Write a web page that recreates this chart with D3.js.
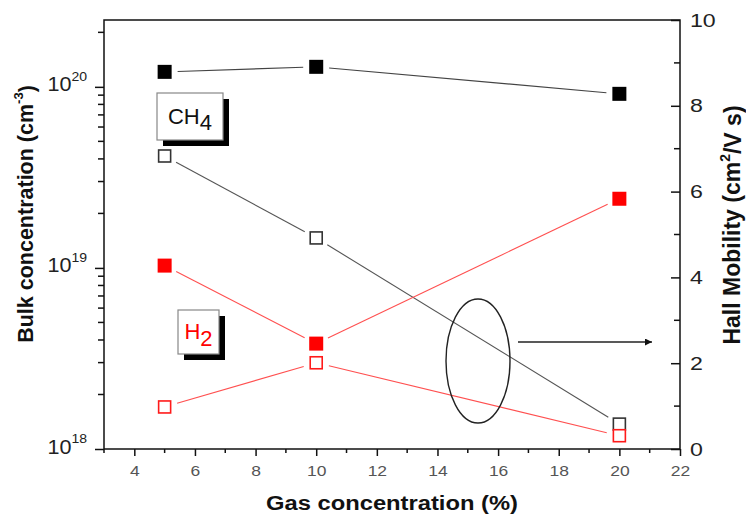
<!DOCTYPE html>
<html>
<head>
<meta charset="utf-8">
<script src="https://cdn.jsdelivr.net/npm/d3@7"></script>
<style>
  html, body { margin: 0; padding: 0; background: #fff; }
  svg { display: block; font-family: Arial, "Liberation Sans", sans-serif; }
</style>
</head>
<body>
<svg id="chart" width="746" height="515"></svg>
<script>
// Gas concentration (%) at which the films were grown
const gasConc = [5, 10, 20];
// Bulk carrier concentration (cm^-3), left log axis
const ch4Bulk = [1.21e20, 1.29e20, 9.15e19];
const h2Bulk = [1.03e19, 3.82e18, 2.41e19];
// Hall mobility (cm^2/V s), right linear axis
const ch4Mobility = [6.83, 4.92, 0.58];
const h2Mobility = [0.98, 2.01, 0.31];
// Axis ticks
const xTicks = [4, 6, 8, 10, 12, 14, 16, 18, 20, 22];
const xMinorTicks = [3, 5, 7, 9, 11, 13, 15, 17, 19, 21];
const leftExponents = [18, 19, 20];
const rightTicks = [0, 2, 4, 6, 8, 10];
const rightMinorTicks = [1, 3, 5, 7, 9];

const svg = d3.select("#chart");
const plot = { left: 104, right: 680, top: 20, bottom: 449 };

const x = d3.scaleLinear().domain([3, 22]).range([plot.left, plot.right]);
const yL = d3.scaleLog().domain([1e18, 2.34e20]).range([plot.bottom, plot.top]);
const yR = d3.scaleLinear().domain([0, 10]).range([plot.bottom, plot.top]);

// Widen glyphs horizontally while keeping each label's anchor point fixed
function widen(sel, k) {
  sel.each(function() {
    const t = d3.select(this);
    const ax = +t.attr("x") || 0;
    t.attr("transform", `translate(${ax * (1 - k)},0) scale(${k},1)`);
  });
}

// Frame
svg.append("rect")
  .attr("x", plot.left).attr("y", plot.top)
  .attr("width", plot.right - plot.left).attr("height", plot.bottom - plot.top)
  .attr("fill", "none").attr("stroke", "#111").attr("stroke-width", 1.5);

// Bottom axis
const xAxis = svg.append("g").attr("transform", `translate(0,${plot.bottom})`)
  .call(d3.axisBottom(x).tickValues(xTicks).tickSize(7).tickPadding(10).tickFormat(d3.format("d")));
xAxis.append("g").selectAll("line").data(xMinorTicks).join("line")
  .attr("x1", d => x(d)).attr("x2", d => x(d)).attr("y1", 0).attr("y2", 4)
  .attr("stroke", "#111").attr("stroke-width", 1.5);
xAxis.select(".domain").remove();
xAxis.selectAll(".tick line").attr("stroke", "#111").attr("stroke-width", 1.5);
const xLabels = xAxis.selectAll(".tick text").attr("font-size", 14).attr("fill", "#555")
  .attr("font-family", "Arial, 'Liberation Sans', sans-serif");
widen(xLabels, 1.25);

// Left log axis (outward ticks)
const leftMajor = leftExponents.map(e => Math.pow(10, e));
const leftMinor = [];
leftExponents.forEach(e => { for (let m = 2; m <= 9; m++) { const v = m * Math.pow(10, e); if (v <= 2.34e20) leftMinor.push(v); } });
const yAxisL = svg.append("g").attr("transform", `translate(${plot.left},0)`)
  .call(d3.axisLeft(yL).tickValues(leftMajor).tickSize(9).tickPadding(8).tickFormat(() => ""));
yAxisL.select(".domain").remove();
yAxisL.selectAll(".tick line").attr("stroke", "#111").attr("stroke-width", 1.5);
yAxisL.append("g").selectAll("line").data(leftMinor).join("line")
  .attr("x1", -6).attr("x2", 0).attr("y1", d => yL(d)).attr("y2", d => yL(d))
  .attr("stroke", "#111").attr("stroke-width", 1.5);
const leftLabels = yAxisL.selectAll(".tick text")
  .attr("font-size", 20).attr("fill", "#222").attr("dy", "0.2em")
  .attr("font-family", "Arial, 'Liberation Sans', sans-serif");
leftLabels.each(function(d, i) {
  const t = d3.select(this);
  t.append("tspan").text("10");
  t.append("tspan").attr("font-size", 13).attr("dy", "-0.8em").text(String(leftExponents[i]));
});
widen(leftLabels, 1.08);

// Right linear axis (inward ticks)
const yAxisR = svg.append("g").attr("transform", `translate(${plot.right},0)`)
  .call(d3.axisRight(yR).tickValues(rightTicks).tickSize(-9).tickPadding(10).tickFormat(d3.format("d")));
yAxisR.select(".domain").remove();
yAxisR.selectAll(".tick line").attr("stroke", "#111").attr("stroke-width", 1.5);
yAxisR.append("g").selectAll("line").data(rightMinorTicks).join("line")
  .attr("x1", -6).attr("x2", 0).attr("y1", d => yR(d)).attr("y2", d => yR(d))
  .attr("stroke", "#111").attr("stroke-width", 1.5);
const rightLabels = yAxisR.selectAll(".tick text").attr("font-size", 19).attr("fill", "#222")
  .attr("font-family", "Arial, 'Liberation Sans', sans-serif");
widen(rightLabels, 1.22);

// Axis titles
svg.append("text").attr("x", 392).attr("y", 510).attr("text-anchor", "middle")
  .attr("font-size", 20).attr("font-weight", "bold").attr("fill", "#111")
  .attr("textLength", 252).attr("lengthAdjust", "spacingAndGlyphs")
  .text("Gas concentration (%)");

const leftTitle = svg.append("text")
  .attr("transform", "translate(33,214) rotate(-90)").attr("text-anchor", "middle")
  .attr("font-size", 21.5).attr("font-weight", "bold").attr("fill", "#111");
leftTitle.append("tspan").text("Bulk concentration (cm");
leftTitle.append("tspan").attr("font-size", 13).attr("dy", "-0.75em").text("-3");
leftTitle.append("tspan").attr("dy", "0.5em").text(")");

const rightTitle = svg.append("text")
  .attr("transform", "translate(740,225) rotate(-90)").attr("text-anchor", "middle")
  .attr("font-size", 23).attr("font-weight", "bold").attr("fill", "#111");
rightTitle.append("tspan").text("Hall Mobility (cm");
rightTitle.append("tspan").attr("font-size", 14).attr("dy", "-0.75em").text("2");
rightTitle.append("tspan").attr("dy", "0.5em").text("/V s)");

// Connecting segments, trimmed so they stop short of the markers
function drawSegments(xs, ys, yScale, color) {
  const pts = xs.map((v, i) => [x(v), yScale(ys[i])]);
  const gap = 13;
  const segs = d3.pairs(pts).map(([a, b]) => {
    const dx = b[0] - a[0], dy = b[1] - a[1];
    const len = Math.hypot(dx, dy);
    const ux = dx / len, uy = dy / len;
    return [a[0] + ux * gap, a[1] + uy * gap, b[0] - ux * gap, b[1] - uy * gap];
  });
  svg.append("g").selectAll("line").data(segs).join("line")
    .attr("x1", d => d[0]).attr("y1", d => d[1]).attr("x2", d => d[2]).attr("y2", d => d[3])
    .attr("stroke", color).attr("stroke-width", 1.1);
}

drawSegments(gasConc, ch4Bulk, yL, "#444");
drawSegments(gasConc, ch4Mobility, yR, "#555");
drawSegments(gasConc, h2Bulk, yL, "#ff5050");
drawSegments(gasConc, h2Mobility, yR, "#ff5050");

function drawFilled(xs, ys, yScale, color) {
  const s = 14;
  svg.append("g").selectAll("rect").data(xs).join("rect")
    .attr("x", (d) => x(d) - s / 2).attr("y", (d, i) => yScale(ys[i]) - s / 2)
    .attr("width", s).attr("height", s).attr("fill", color);
}
function drawOpen(xs, ys, yScale, color) {
  const s = 12;
  svg.append("g").selectAll("rect").data(xs).join("rect")
    .attr("x", (d) => x(d) - s / 2).attr("y", (d, i) => yScale(ys[i]) - s / 2)
    .attr("width", s).attr("height", s).attr("fill", "#fff")
    .attr("stroke", color).attr("stroke-width", 1.6);
}

drawFilled(gasConc, ch4Bulk, yL, "#000");
drawOpen(gasConc, ch4Mobility, yR, "#333");
drawFilled(gasConc, h2Bulk, yL, "#ff0000");
drawOpen(gasConc, h2Mobility, yR, "#ff1a1a");

// Series labels in shadowed boxes
function labelBox(bx, by, w, h, base, sub, color) {
  const g = svg.append("g");
  g.append("rect").attr("x", bx + 6).attr("y", by + 6).attr("width", w).attr("height", h).attr("fill", "#000");
  g.append("rect").attr("x", bx).attr("y", by).attr("width", w).attr("height", h)
    .attr("fill", "#fff").attr("stroke", "#888").attr("stroke-width", 1.2);
  const t = g.append("text").attr("x", bx + w / 2).attr("y", by + h / 2 + 7)
    .attr("text-anchor", "middle").attr("font-size", 22).attr("fill", color);
  t.append("tspan").text(base);
  t.append("tspan").attr("font-size", 22).attr("dy", "0.3em").text(sub);
}
labelBox(157, 93, 66, 47, "CH", "4", "#111");
labelBox(178, 310, 41, 44, "H", "2", "#ff0000");

// Ellipse marking the mobility curves, with arrow toward the right axis
svg.append("ellipse").attr("cx", 478).attr("cy", 361).attr("rx", 32).attr("ry", 62)
  .attr("fill", "none").attr("stroke", "#222").attr("stroke-width", 1.4);
svg.append("defs").append("marker").attr("id", "arrowhead")
  .attr("viewBox", "0 0 10 10").attr("refX", 10).attr("refY", 5)
  .attr("markerWidth", 10).attr("markerHeight", 7).attr("markerUnits", "userSpaceOnUse")
  .attr("orient", "auto")
  .append("path").attr("d", "M0,0 L10,5 L0,10 Z").attr("fill", "#111");
svg.append("line").attr("x1", 518).attr("y1", 342).attr("x2", 652).attr("y2", 342)
  .attr("stroke", "#222").attr("stroke-width", 1.4).attr("marker-end", "url(#arrowhead)");
</script>
</body>
</html>
